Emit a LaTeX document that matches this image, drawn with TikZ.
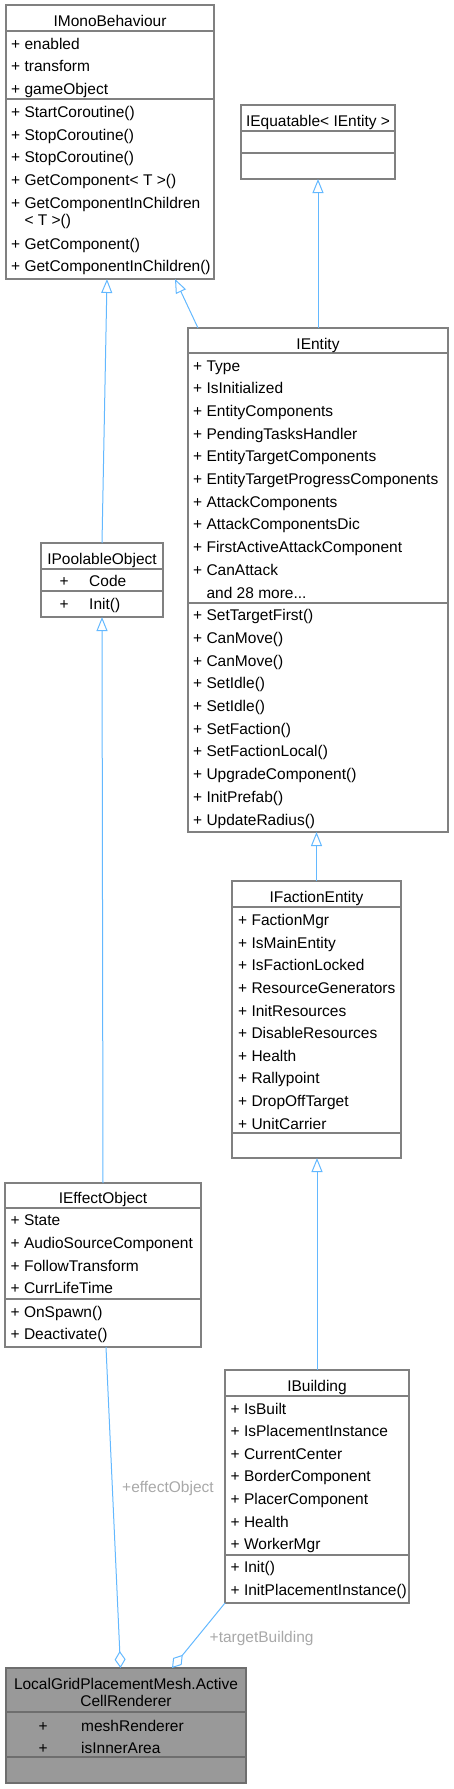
\documentclass[tikz,border=0pt]{standalone}
\usepackage{fontspec}
\setmainfont{Liberation Sans}
\usetikzlibrary{arrows.meta}

\definecolor{edgeblue}{HTML}{63B8FF}
\definecolor{boxline}{HTML}{808080}
\definecolor{hlline}{HTML}{6E6E6E}
\definecolor{hlfill}{HTML}{999999}
\definecolor{lblgrey}{HTML}{A8A8A8}

\def\uml{\fontsize{15.5}{18}\selectfont}
\def\rh{22.65}
% box: style, name, left, top, right, bottom (pixels, y down)
\def\cls#1#2#3#4#5#6{\node[#1, minimum width=#5-#3, minimum height=#6-#4] (#2) at ({(#3+#5)/2}, {(#4+#6)/2}) {};}
\def\sep#1#2{\draw[sepline] (#1.west |- 0,#2) -- (#1.east |- 0,#2);}

\begin{document}
\begin{tikzpicture}[x=1pt, y=-1pt,
    cls/.style={rectangle, draw=boxline, line width=1.3pt, fill=white, inner sep=0, outer sep=0},
    hl/.style={cls, draw=hlline, fill=hlfill},
    sepline/.style={draw=boxline, line width=1.3pt},
    title/.style={anchor=base, inner sep=0, font=\uml},
    member/.style={anchor=base west, inner sep=0, font=\uml},
    inherit/.style={draw=edgeblue, line width=1pt, -{Triangle[open, length=14pt, width=11pt]}},
    aggr/.style={draw=edgeblue, line width=1pt, -{Diamond[open, length=17pt, width=11pt]}},
    lbl/.style={anchor=base west, inner sep=0, font=\uml, text=lblgrey}]
    \useasboundingbox (0,0) rectangle (453,1789);

    % IMonoBehaviour
    \cls{cls}{mono}{6}{5}{214}{279}
    \sep{mono}{31}
    \sep{mono}{99}
    \node[title] (mono-t) at (110, 26.5) {IMonoBehaviour};
    \foreach \t [count=\i from 0] in {enabled, transform, gameObject}
        \node[member] (mono-a\i) at (11, 49+\rh*\i) {+ \t};
    \foreach \t [count=\i from 0] in {StartCoroutine(), StopCoroutine(), StopCoroutine(), GetComponent< T >(), GetComponentInChildren}
        \node[member] (mono-m\i) at (11, 117.4+\rh*\i) {+ \t};
    \node[member] (mono-m5) at (11, 225) {\hphantom{+ }< T >()};
    \node[member] (mono-m6) at (11, 249) {+ GetComponent()};
    \node[member] (mono-m7) at (11, 271.6) {+ GetComponentInChildren()};

    % IEquatable
    \cls{cls}{equat}{241}{105}{395}{179}
    \sep{equat}{131}
    \sep{equat}{153}
    \node[title] (equat-t) at (318, 126) {IEquatable< IEntity >};

    % IEntity
    \cls{cls}{entity}{188}{328}{448}{832}
    \sep{entity}{353}
    \sep{entity}{603}
    \node[title] (entity-t) at (318, 349) {IEntity};
    \foreach \t [count=\i from 0] in {Type, IsInitialized, EntityComponents, PendingTasksHandler, EntityTargetComponents, EntityTargetProgressComponents, AttackComponents, AttackComponentsDic, FirstActiveAttackComponent, CanAttack}
        \node[member] (entity-a\i) at (193, 371+22.7*\i) {+ \t};
    \node[member] (entity-more) at (193, 371+22.7*10) {\hphantom{+ }and 28 more...};
    \foreach \t [count=\i from 11] in {SetTargetFirst(), CanMove(), CanMove(), SetIdle(), SetIdle(), SetFaction(), SetFactionLocal(), UpgradeComponent(), InitPrefab(), UpdateRadius()}
        \node[member] (entity-m\i) at (193, 371+22.7*\i) {+ \t};

    % IPoolableObject
    \cls{cls}{pool}{41}{543}{163}{617}
    \sep{pool}{569}
    \sep{pool}{591}
    \node[title] (pool-t) at (102, 564) {IPoolableObject};
    \node[member] (pool-p1) at (59.5, 586.7) {+};
    \node[member] (pool-a0) at (89, 586.7) {Code};
    \node[member] (pool-p2) at (59.5, 609) {+};
    \node[member] (pool-m0) at (89, 609) {Init()};

    % IFactionEntity
    \cls{cls}{faction}{232}{881}{401}{1158}
    \sep{faction}{907}
    \sep{faction}{1133}
    \node[title] (faction-t) at (316.5, 902) {IFactionEntity};
    \foreach \t [count=\i from 0] in {FactionMgr, IsMainEntity, IsFactionLocked, ResourceGenerators, InitResources, DisableResources, Health, Rallypoint, DropOffTarget, UnitCarrier}
        \node[member] (faction-a\i) at (238, 925.7+22.6*\i) {+ \t};

    % IEffectObject
    \cls{cls}{effect}{5}{1183}{201}{1347}
    \sep{effect}{1208}
    \sep{effect}{1299}
    \node[title] (effect-t) at (103, 1203) {IEffectObject};
    \foreach \t [count=\i from 0] in {State, AudioSourceComponent, FollowTransform, CurrLifeTime}
        \node[member] (effect-a\i) at (10.5, 1225.7+\rh*\i) {+ \t};
    \node[member] (effect-m0) at (10.5, 1317) {+ OnSpawn()};
    \node[member] (effect-m1) at (10.5, 1339) {+ Deactivate()};

    % IBuilding
    \cls{cls}{building}{225}{1370}{409}{1603}
    \sep{building}{1396}
    \sep{building}{1555}
    \node[title] (building-t) at (317, 1391) {IBuilding};
    \foreach \t [count=\i from 0] in {IsBuilt, IsPlacementInstance, CurrentCenter, BorderComponent, PlacerComponent, Health, WorkerMgr, Init(), InitPlacementInstance()}
        \node[member] (building-r\i) at (230.5, 1414+\rh*\i) {+ \t};

    % LocalGridPlacementMesh.ActiveCellRenderer
    \cls{hl}{acr}{6}{1668}{246}{1783}
    \draw[sepline, draw=hlline] (acr.west |- 0,1712) -- (acr.east |- 0,1712);
    \draw[sepline, draw=hlline] (acr.west |- 0,1757) -- (acr.east |- 0,1757);
    \node[title] (acr-t1) at (126, 1689.2) {LocalGridPlacementMesh.Active};
    \node[title] (acr-t2) at (126, 1706.6) {CellRenderer};
    \node[member] (acr-p1) at (38.5, 1731) {+};
    \node[member] (acr-a0) at (81, 1731) {meshRenderer};
    \node[member] (acr-p2) at (38.5, 1753) {+};
    \node[member] (acr-a1) at (81, 1753) {isInnerArea};

    % inheritance
    \draw[inherit] (pool.north) -- ([xshift=101]mono.south west);
    \draw[inherit] ([xshift=10]entity.north west) -- ([xshift=169]mono.south west);
    \draw[inherit] (entity.north) -- (equat.south);
    \draw[inherit] (faction.north) -- (faction.north |- entity.south);
    \draw[inherit] (building.north) -- (building.north |- faction.south);
    \draw[inherit] (effect.north) -- (pool.south);

    % members
    \draw[aggr] ([xshift=3]effect.south) -- ([xshift=-5.5]acr.north);
    \draw[aggr] (building.south west) -- ([xshift=46]acr.north);
    \node[lbl] (lbl-effect) at (122, 1492.5) {+effectObject};
    \node[lbl] (lbl-target) at (209.5, 1642) {+targetBuilding};
\end{tikzpicture}
\end{document}
